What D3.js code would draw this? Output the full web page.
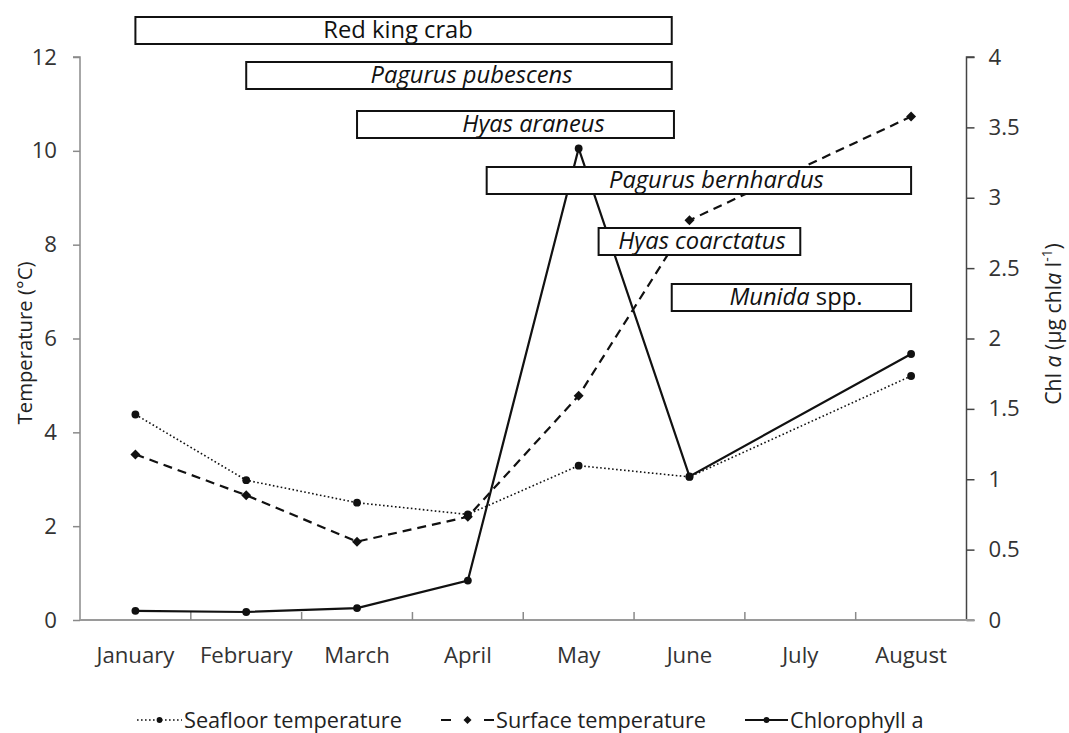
<!DOCTYPE html>
<html><head><meta charset="utf-8">
<script src="https://cdn.jsdelivr.net/npm/d3@7"></script>
<style>body{margin:0;background:#fff}svg{display:block}text{font-family:"Open Sans",sans-serif}</style>
</head><body><svg id="c" width="1069" height="733"></svg>
<script>
const months = ["January","February","March","April","May","June","July","August"];
const seafloor = [4.38, 2.98, 2.5, 2.25, 3.29, 3.05, null, 5.2];
const surface = [3.53, 2.66, 1.67, 2.2, 4.78, 8.52, null, 10.73];
const chl = [0.065, 0.057, 0.085, 0.28, 3.35, 1.02, null, 1.89];
const tempTicks = [0,2,4,6,8,10,12];
const chlTicks = [0,0.5,1,1.5,2,2.5,3,3.5,4];
// species presence periods, in month units (1 = January centre)
const species = ["Red king crab","Pagurus pubescens","Hyas araneus","Pagurus bernhardus","Hyas coarctatus","Munida spp."];
const speciesStart = [1, 2, 3, 4.17, 5.18, 5.84];
const speciesEnd = [5.84, 5.84, 5.86, 8, 7, 8];

const svg = d3.select("#c");
const L=80, R=966.5, T=57, B=620;

function fit(str, target, style){
  const t = svg.append("text").attr("font-size",20).attr("font-style",style||null).text(str);
  const w = t.node().getComputedTextLength(); t.remove();
  return 20*target/w;
}
const fsTick = fit("January", 78);
const fsLeg = fit("Seafloor temperature", 218);
const fsBox = fit("Pagurus bernhardus", 215, "italic");

const x = d3.scaleBand().domain(months).range([L,R]);
const xm = d3.scaleLinear().domain([0.5, 8.5]).range([L,R]);
const yT = d3.scaleLinear().domain([0,12]).range([B,T]);
const yC = d3.scaleLinear().domain([0,4]).range([B,T]);
const cx = m => x(m) + x.bandwidth()/2;

// axes
const gl = svg.append("g").attr("transform",`translate(${L},0)`).call(d3.axisLeft(yT).tickValues(tempTicks).tickSize(7).tickPadding(16));
gl.select(".domain").attr("stroke","#8a8a8a").attr("stroke-width",1.5).attr("d",`M-7,${T}H0V${B}`);
gl.selectAll(".tick line").attr("stroke","#8a8a8a").attr("stroke-width",1.5);
gl.selectAll("text").attr("font-size",fsTick).attr("fill","#333").attr("font-family","Open Sans");

const gr = svg.append("g").attr("transform",`translate(${R},0)`).call(d3.axisRight(yC).tickValues(chlTicks).tickFormat(d=>String(d)).tickSize(8).tickPadding(14));
gr.select(".domain").attr("stroke","#444").attr("stroke-width",1.5).attr("d",`M8,${T}H0V${B}`);
gr.selectAll(".tick line").attr("stroke","#444").attr("stroke-width",1.5);
gr.selectAll("text").attr("font-size",fsTick).attr("fill","#333").attr("font-family","Open Sans");

const gx = svg.append("g").attr("transform",`translate(0,${B})`);
gx.append("line").attr("x1",L).attr("x2",R+8).attr("stroke","#9a9a9a").attr("stroke-width",2);
gx.selectAll("line.t").data(d3.range(1,8)).join("line").attr("class","t")
  .attr("x1",i=>L+i*x.bandwidth()).attr("x2",i=>L+i*x.bandwidth()).attr("y1",0).attr("y2",-8).attr("stroke","#8a8a8a").attr("stroke-width",1.5);
gx.selectAll("text").data(months).join("text").attr("x",d=>cx(d)).attr("y",43).attr("text-anchor","middle").attr("font-size",fsTick).attr("fill","#333").text(d=>d);

// axis titles
svg.append("text").attr("transform",`translate(32,343) rotate(-90)`).attr("text-anchor","middle").attr("font-size",fit("Temperature (°C)",163)).attr("fill","#222").text("Temperature (°C)");
const fsR = fit("Chl a (µg chla l-1)", 168);
const rt = svg.append("text").attr("transform",`translate(1061,324) rotate(-90)`).attr("text-anchor","middle").attr("font-size",fsR).attr("fill","#222");
rt.append("tspan").text("Chl ");
rt.append("tspan").attr("font-style","italic").text("a");
rt.append("tspan").text(" (µg chl");
rt.append("tspan").attr("font-style","italic").text("a");
rt.append("tspan").text(" l");
rt.append("tspan").attr("font-size",fsR*0.65).attr("dy",-fsR*0.4).text("-1");
rt.append("tspan").attr("dy",fsR*0.4).text(")");

// series
function marker(sel, type, s){
  if(type==="diamond") sel.attr("d",d3.symbol().type(d3.symbolSquare).size(s)).attr("transform",function(){return d3.select(this).attr("transform")+" rotate(45)";});
  else sel.attr("d",d3.symbol().type(d3.symbolCircle).size(s));
}
function series(vals, yS, dash, width, type){
  const pts = months.map((m,i)=>({m,v:vals[i]})).filter(d=>d.v!=null);
  svg.append("path").datum(pts).attr("fill","none").attr("stroke","#111").attr("stroke-width",width)
    .attr("stroke-dasharray",dash).attr("d",d3.line().x(d=>cx(d.m)).y(d=>yS(d.v)));
  const g = svg.append("g").selectAll("path").data(pts).join("path").attr("fill","#111")
    .attr("transform",d=>`translate(${cx(d.m)},${yS(d.v)})`);
  marker(g, type, type==="diamond"?50:48);
}
series(seafloor, yT, "1.6,2.4", 1.6, "circle");
series(surface, yT, "9,6", 2.2, "diamond");
series(chl, yC, null, 2.2, "circle");

// species boxes
const rowTop = [17, 62, 111, 167, 228, 284];
const textShift = [-5.5, 12.5, 18, 17.5, 2.5, 4.5];
const italic = [false,true,true,true,true,"first"];
species.forEach((s,i)=>{
  const x0 = xm(speciesStart[i]), x1 = xm(speciesEnd[i]);
  svg.append("rect").attr("x",x0).attr("y",rowTop[i]).attr("width",x1-x0).attr("height",27)
    .attr("fill","#fff").attr("stroke","#111").attr("stroke-width",2);
  const t = svg.append("text").attr("x",(x0+x1)/2+textShift[i]).attr("y",rowTop[i]+21).attr("text-anchor","middle").attr("font-size",fsBox).attr("fill","#111");
  if(italic[i]===true) t.attr("font-style","italic").text(s);
  else if(italic[i]==="first"){ const p=s.split(" "); t.append("tspan").attr("font-style","italic").text(p[0]); t.append("tspan").text(" "+p[1]); }
  else t.text(s);
});

// legend
const lg = svg.append("g").attr("transform","translate(0,728)");
const items = [
  {label:"Seafloor temperature", x:137, w:45, dash:"1.6,2.4", sw:1.6, m:"circle"},
  {label:"Surface temperature", x:441, w:53, dash:"10,33", sw:2, m:"diamond"},
  {label:"Chlorophyll a", x:745, w:43, dash:null, sw:2, m:"circle"}
];
items.forEach(it=>{
  lg.append("line").attr("x1",it.x).attr("x2",it.x+it.w).attr("y1",-8).attr("y2",-8).attr("stroke","#111").attr("stroke-width",it.sw).attr("stroke-dasharray",it.dash);
  const p = lg.append("path").attr("fill","#111").attr("transform",`translate(${it.x+it.w/2},-8)`);
  marker(p, it.m, it.m==="diamond"?32:26);
  lg.append("text").attr("x",it.x+it.w+2).attr("y",0).attr("font-size",fsLeg).attr("fill","#222").text(it.label);
});
</script></body></html>
